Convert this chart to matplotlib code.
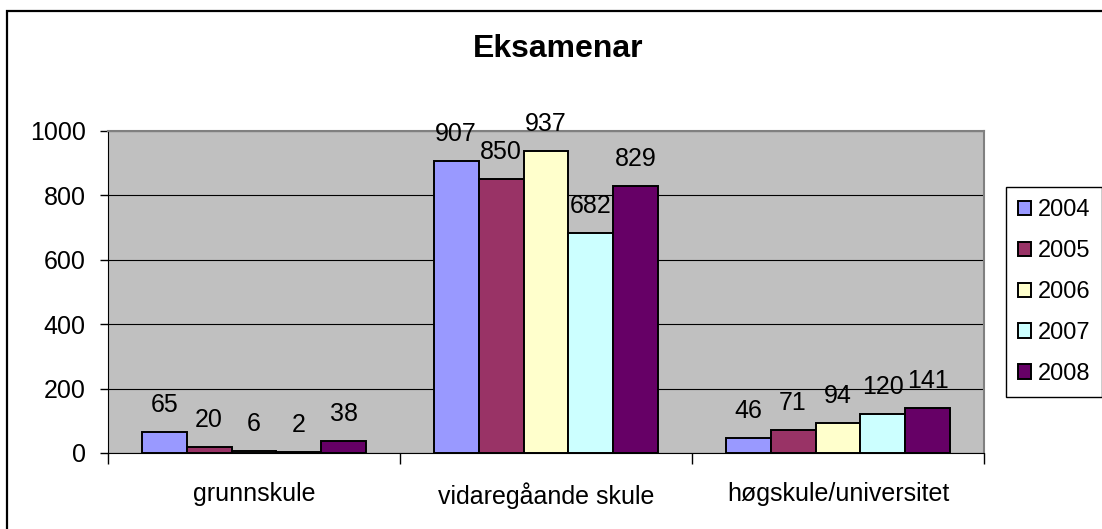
import matplotlib
matplotlib.use('Agg')
import matplotlib.pyplot as plt
import matplotlib.patches as mpatches
import numpy as np

categories = ['grunnskule', 'vidaregåande skule', 'høgskule/universitet']
years = ['2004', '2005', '2006', '2007', '2008']
v2004 = [65, 907, 46]
v2005 = [20, 850, 71]
v2006 = [6, 937, 94]
v2007 = [2, 682, 120]
v2008 = [38, 829, 141]
colors = ['#9999FF', '#993366', '#FFFFCC', '#CCFFFF', '#660066']

plt.rcParams['font.family'] = ['Liberation Sans', 'DejaVu Sans']

fig = plt.figure(figsize=(11.02, 5.29), dpi=100)
ax = fig.add_axes([108/1102, 1-453/529, (984-108)/1102, (453-131)/529])
ax.set_facecolor('#C0C0C0')

series = [v2004, v2005, v2006, v2007, v2008]
x = np.arange(len(categories))
w = 1/6.5
for i, vals in enumerate(series):
    pos = x - 2.5*w + (i + 0.5)*w
    ax.bar(pos, vals, width=w, color=colors[i], edgecolor='black',
           linewidth=1.4, label=years[i], zorder=3)
    for xp, v in zip(pos, vals):
        ax.annotate(str(v), (xp, v), xytext=(0, 20), textcoords='offset pixels',
                    ha='center', va='baseline', fontsize=18, zorder=4)

ax.set_xlim(-0.5, 2.5)
ax.set_ylim(0, 1000)
ax.set_yticks([0, 200, 400, 600, 800, 1000])
ax.tick_params(axis='y', labelsize=18, length=6, width=1, direction='out', pad=10)
ax.set_xticks(x)
ax.set_xticklabels(categories)
ax.tick_params(axis='x', which='major', length=0, labelsize=18, pad=21)
ax.set_xticks([-0.5, 0.5, 1.5, 2.5], minor=True)
ax.tick_params(axis='x', which='minor', length=8, width=1, direction='out')
ax.yaxis.grid(True, color='black', linewidth=0.8)
ax.set_axisbelow(True)
ax.spines['top'].set_color('#808080')
ax.spines['right'].set_color('#808080')
ax.spines['top'].set_linewidth(1.5)
ax.spines['right'].set_linewidth(1.5)

fig.text(558/1102, 1-49/529, 'Eksamenar', ha='center', va='center',
         fontsize=23, fontweight='bold')

leg = ax.legend(loc='center left', bbox_to_anchor=(1006/1102, 1-292/529),
                bbox_transform=fig.transFigure, fontsize=17, frameon=True,
                fancybox=False, edgecolor='black', framealpha=1,
                handlelength=0.55, handleheight=0.55, handletextpad=0.3,
                labelspacing=0.8, borderpad=0.5, borderaxespad=0)
leg.get_frame().set_linewidth(1)

fig.patches.append(mpatches.Rectangle((7/1102, -0.1), 1.2, (529-11)/529 + 0.1,
                                      transform=fig.transFigure, fill=False,
                                      edgecolor='black', linewidth=1.6))

fig.savefig('out.png', dpi=100)
